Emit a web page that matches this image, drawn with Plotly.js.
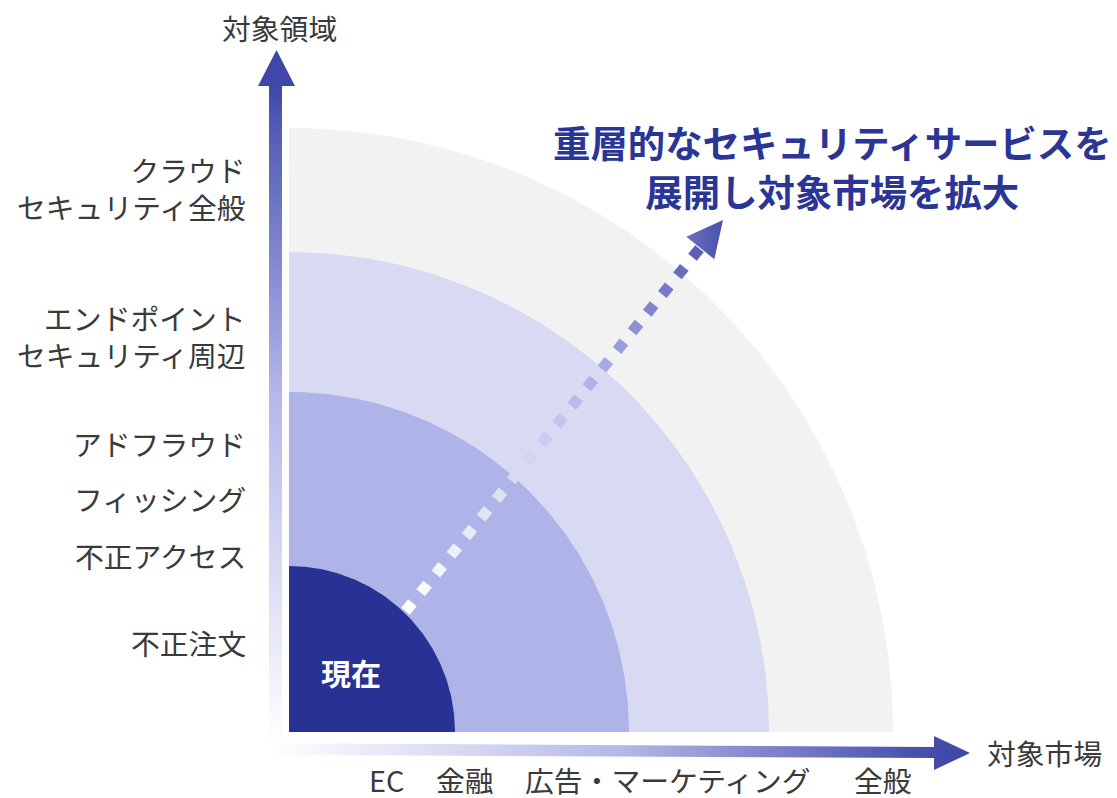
<!DOCTYPE html>
<html>
<head>
<meta charset="utf-8">
<script src="https://cdn.plot.ly/plotly-3.0.1.min.js"></script>
<style>html,body{margin:0;padding:0;background:#fff;}#chart{width:1117px;height:798px;}</style>
</head>
<body>
<div id="chart"></div>
<script>
// ---- data ----
const ringNames = ['現在', '第2層', '第3層', '第4層'];
const ringRadii = [166, 340, 480, 604];
const yCategories = ['不正注文', '不正アクセス', 'フィッシング', 'アドフラウド', 'エンドポイント<br>セキュリティ周辺', 'クラウド<br>セキュリティ全般'];
const yTickValues = [90, 177, 234, 289, 396, 544];
const xCategories = ['EC', '金融', '広告・マーケティング', '全般'];
const xTickValues = [97, 176, 379, 594];
const yAxisTitle = '対象領域';
const xAxisTitle = '対象市場';
const headline = '重層的なセキュリティサービスを<br>展開し対象市場を拡大';

// ---- style ----
const FONT = '"Noto Sans CJK JP", "Noto Sans", sans-serif';
const ringColors = ['#283194', '#aeb3e8', '#d8d9f2', '#f2f2f2'];
const labelColor = '#3a3a3a';
const LABEL_SIZE = 28.8;

const traces = [];

// rings (largest first)
for (let i = ringRadii.length - 1; i >= 0; i--) {
  const r = ringRadii[i];
  const xs = [0], ys = [0];
  for (let k = 0; k <= 180; k++) {
    const a = (Math.PI / 2) * k / 180;
    xs.push(r * Math.cos(a));
    ys.push(r * Math.sin(a));
  }
  xs.push(0); ys.push(0);
  traces.push({
    type: 'scatter', mode: 'lines', x: xs, y: ys, fill: 'toself',
    fillcolor: ringColors[i], line: {width: 0, color: ringColors[i]},
    name: ringNames[i], hoverinfo: 'skip', showlegend: false
  });
}

// vertical axis arrow
traces.push({
  type: 'scatter', mode: 'lines',
  x: [-20, -7, -7, 6, -12.5, -31, -20, -20],
  y: [-13, -13, 646, 646, 682, 646, 646, -13],
  fill: 'toself', line: {width: 0},
  fillgradient: {type: 'vertical', start: -13, stop: 682,
    colorscale: [[0, '#ffffff'], [0.5, '#b4b8ea'], [0.9, '#5058b4'], [0.95, '#3f47a8'], [1, '#3f47a8']]},
  hoverinfo: 'skip', showlegend: false
});

// horizontal axis arrow
traces.push({
  type: 'scatter', mode: 'lines',
  x: [-19, 645, 645, 681, 645, 645, -19, -19],
  y: [-11, -15, -4, -21, -38, -26, -23, -11],
  fill: 'toself', line: {width: 0},
  fillgradient: {type: 'horizontal', start: -19, stop: 681,
    colorscale: [[0, '#ffffff'], [0.5, '#b5b8e8'], [0.92, '#4a51ad'], [1, '#3c44a6']]},
  hoverinfo: 'skip', showlegend: false
});

// dotted expansion arrow
const dotStart = [120, 125], dotEnd = [407, 479], dotCount = 20;
const dx = [], dy = [], dc = [];
for (let i = 0; i < dotCount; i++) {
  const t = i / (dotCount - 1);
  dx.push(dotStart[0] + (dotEnd[0] - dotStart[0]) * t);
  dy.push(dotStart[1] + (dotEnd[1] - dotStart[1]) * t);
  dc.push(t);
}
traces.push({
  type: 'scatter', mode: 'markers', x: dx, y: dy,
  marker: {symbol: 'square', size: 11, angle: 39, color: dc, cmin: 0, cmax: 1,
    colorscale: [[0, '#ffffff'], [0.45, '#cfd1f1'], [0.7, '#a3a7e2'], [1, '#5a61b8']],
    line: {width: 0}},
  hoverinfo: 'skip', showlegend: false
});
// arrow head
const tip = [434, 512];
const ang = Math.atan2(dotEnd[1] - dotStart[1], dotEnd[0] - dotStart[0]);
const headLen = 36, headHalf = 18;
const bx = tip[0] - headLen * Math.cos(ang), by = tip[1] - headLen * Math.sin(ang);
const px = -Math.sin(ang), py = Math.cos(ang);
traces.push({
  type: 'scatter', mode: 'lines',
  x: [tip[0], bx + headHalf * px, bx - headHalf * px, tip[0]],
  y: [tip[1], by + headHalf * py, by - headHalf * py, tip[1]],
  fill: 'toself', line: {width: 0},
  fillgradient: {type: 'horizontal', start: bx - headHalf, stop: tip[0],
    colorscale: [[0, '#6d73c3'], [1, '#4850ad']]},
  hoverinfo: 'skip', showlegend: false
});

const annotations = [];
yCategories.forEach((t, i) => annotations.push({
  x: -41, y: yTickValues[i], xref: 'x', yref: 'y', text: t, showarrow: false,
  xanchor: 'right', yanchor: 'middle', align: 'right',
  font: {family: FONT, size: LABEL_SIZE, color: labelColor}
}));
xCategories.forEach((t, i) => annotations.push({
  x: xTickValues[i], y: -47, xref: 'x', yref: 'y', text: t, showarrow: false,
  xanchor: 'center', yanchor: 'middle',
  font: {family: FONT, size: LABEL_SIZE, color: labelColor}
}));
annotations.push({x: -10, y: 705, xref: 'x', yref: 'y', text: yAxisTitle, showarrow: false,
  xanchor: 'center', yanchor: 'middle', font: {family: FONT, size: LABEL_SIZE, color: labelColor}});
annotations.push({x: 696, y: -20, xref: 'x', yref: 'y', text: xAxisTitle, showarrow: false,
  xanchor: 'left', yanchor: 'middle', font: {family: FONT, size: LABEL_SIZE, color: labelColor}});
annotations.push({x: 62, y: 60, xref: 'x', yref: 'y', text: ringNames[0], showarrow: false,
  xanchor: 'center', yanchor: 'middle', font: {family: FONT, size: 30, color: '#ffffff', weight: 700}});
annotations.push({x: 543, y: 566, xref: 'x', yref: 'y', text: headline, showarrow: false,
  xanchor: 'center', yanchor: 'middle', align: 'center',
  font: {family: FONT, size: 37.4, color: '#2b3595', weight: 700}});

const layout = {
  width: 1117, height: 798,
  margin: {l: 0, r: 0, t: 0, b: 0, pad: 0},
  paper_bgcolor: '#ffffff', plot_bgcolor: '#ffffff',
  xaxis: {range: [-289, 828], visible: false, fixedrange: true},
  yaxis: {range: [-66, 732], visible: false, fixedrange: true},
  showlegend: false, hovermode: false,
  annotations: annotations
};

Plotly.newPlot('chart', traces, layout, {staticPlot: true, displayModeBar: false});
</script>
</body>
</html>
